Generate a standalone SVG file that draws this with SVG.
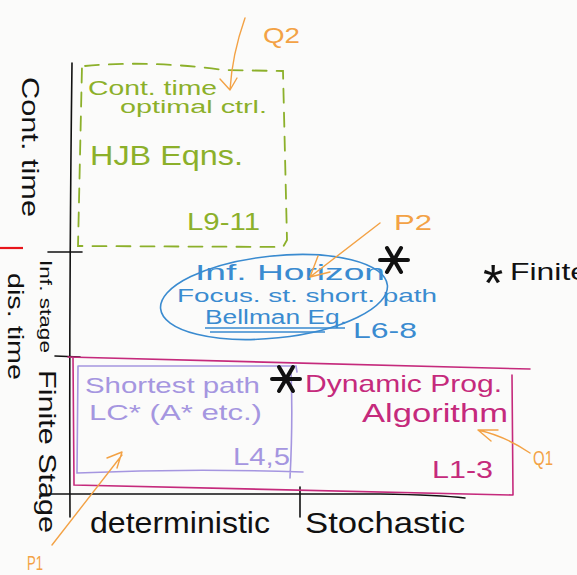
<svg xmlns="http://www.w3.org/2000/svg" width="577" height="575" viewBox="0 0 577 575">
<style>
text{font-family:"Liberation Sans","DejaVu Sans",sans-serif;}
.k{fill:#111;}
.g{fill:#8cb02a;}
.b{fill:#3a8bd0;}
.m{fill:#c52a7c;}
.l{fill:#a596e0;}
.o{fill:#f3a245;}
.sk{fill:none;stroke:#111;stroke-width:1.6;stroke-linecap:round;}
.sg{fill:none;stroke:#8cb02a;stroke-width:1.8;stroke-dasharray:14 10;stroke-linecap:round;}
.sb{fill:none;stroke:#3a8bd0;stroke-width:1.6;}
.sm{fill:none;stroke:#c52a7c;stroke-width:1.6;stroke-linecap:round;}
.sl{fill:none;stroke:#a596e0;stroke-width:1.6;stroke-linecap:round;}
.so{fill:none;stroke:#f3a245;stroke-width:1.4;stroke-linecap:round;stroke-linejoin:round;}
</style>
<defs>
<g id="star"><path d="M-14,0 L14,0 M-7,-12 L7,12 M7,-12 L-7,12" fill="none" stroke="#111" stroke-width="4" stroke-linecap="round"/></g>
</defs>
<rect width="577" height="575" fill="#fbfbfa"/>

<g id="axes">
<path class="sk" d="M72,63 Q69,300 70,517"/>
<path class="sk" d="M40,494 L380,494 Q440,495 465,498"/>
<path class="sk" d="M48,252 L82,252"/>
<path class="sk" d="M55,356 L80,357"/>
<path class="sk" d="M300,487 L300,517"/>
<path d="M0,248 L23,248" stroke="#e8151b" stroke-width="2.2" fill="none"/>
<text class="k" font-size="24" transform="translate(22,77) rotate(90)" textLength="140" lengthAdjust="spacingAndGlyphs">Cont. time</text>
<text class="k" font-size="16" transform="translate(40,260) rotate(90)" textLength="93" lengthAdjust="spacingAndGlyphs">Inf. stage</text>
<text class="k" font-size="22" transform="translate(8,273) rotate(90)" textLength="107" lengthAdjust="spacingAndGlyphs">dis. time</text>
<text class="k" font-size="24" transform="translate(39,370) rotate(90)" textLength="163" lengthAdjust="spacingAndGlyphs">Finite Stage</text>
<text class="k" font-size="30" x="90" y="533" textLength="180" lengthAdjust="spacingAndGlyphs">deterministic</text>
<text class="k" font-size="30" x="305" y="533" textLength="160" lengthAdjust="spacingAndGlyphs">Stochastic</text>
</g>

<g id="cont-time">
<path class="sg" d="M85,66 Q150,60 223,70 L283,71 L287,240 L283,247 L78,246 L82,66"/>
<text class="g" font-size="20" x="88" y="95" textLength="129" lengthAdjust="spacingAndGlyphs">Cont. time</text>
<text class="g" font-size="18" x="120" y="113" textLength="147" lengthAdjust="spacingAndGlyphs">optimal ctrl.</text>
<text class="g" font-size="28" x="90" y="165" textLength="153" lengthAdjust="spacingAndGlyphs">HJB Eqns.</text>
<text class="g" font-size="24" x="187" y="230" textLength="73" lengthAdjust="spacingAndGlyphs">L9-11</text>
</g>

<g id="inf-horizon">
<ellipse class="sb" cx="274" cy="297" rx="114" ry="41" transform="rotate(-6 274 297)"/>
<text class="b" font-size="22" x="195" y="280" textLength="190" lengthAdjust="spacingAndGlyphs">Inf. Horizon</text>
<text class="b" font-size="19" x="177" y="302" textLength="260" lengthAdjust="spacingAndGlyphs">Focus. st. short. path</text>
<text class="b" font-size="20" x="205" y="324" textLength="142" lengthAdjust="spacingAndGlyphs">Bellman Eq.</text>
<path class="sb" d="M205,328 L345,328 M210,332 L325,332"/>
<text class="b" font-size="22" x="353" y="338" textLength="64" lengthAdjust="spacingAndGlyphs">L6-8</text>
</g>

<g id="dynamic-prog">
<path class="sm" d="M68,357 L530,369 M73,357 L74,485 L512,495 M512,375 L513,495"/>
<text class="m" font-size="24" x="305" y="392" textLength="197" lengthAdjust="spacingAndGlyphs">Dynamic Prog.</text>
<text class="m" font-size="26" x="362" y="422" textLength="146" lengthAdjust="spacingAndGlyphs">Algorithm</text>
<text class="m" font-size="24" x="432" y="478" textLength="61" lengthAdjust="spacingAndGlyphs">L1-3</text>
</g>

<g id="shortest-path">
<path class="sl" d="M78,366 L296,366 L297,372 M78,366 L77,473 Q190,468 303,472 M291,372 Q293,420 290,478"/>
<text class="l" font-size="22" x="85" y="393" textLength="175" lengthAdjust="spacingAndGlyphs">Shortest path</text>
<text class="l" font-size="22" x="89" y="420" textLength="173" lengthAdjust="spacingAndGlyphs">LC* (A* etc.)</text>
<text class="l" font-size="24" x="233" y="465" textLength="57" lengthAdjust="spacingAndGlyphs">L4,5</text>
</g>

<g id="markers">
<use href="#star" x="394" y="260"/>
<use href="#star" x="286" y="379"/>
<text class="k" font-size="52" x="493" y="301" text-anchor="middle">*</text>
<text class="k" font-size="24" x="510" y="280" textLength="78" lengthAdjust="spacingAndGlyphs">Finite</text>
</g>

<g id="connectors">
<path class="so" d="M245,18 Q232,55 230,90 M220,79 L230,90 L237,78"/>
<path class="so" d="M380,223 L310,277 M318,256 L310,277 L330,272"/>
<path class="so" d="M530,453 Q505,436 478,430 M498,430 L478,430 L491,441"/>
<path class="so" d="M52,545 L122,455 M107,458 L122,452 L117,468"/>
</g>

<g id="labels">
<text class="o" font-size="22" x="263" y="43" textLength="37" lengthAdjust="spacingAndGlyphs">Q2</text>
<text class="o" font-size="22" x="394" y="230" textLength="38" lengthAdjust="spacingAndGlyphs">P2</text>
<text class="o" font-size="20" x="533" y="465" textLength="20" lengthAdjust="spacingAndGlyphs">Q1</text>
<text class="o" font-size="20" x="27" y="570" textLength="16" lengthAdjust="spacingAndGlyphs">P1</text>
</g>
</svg>
